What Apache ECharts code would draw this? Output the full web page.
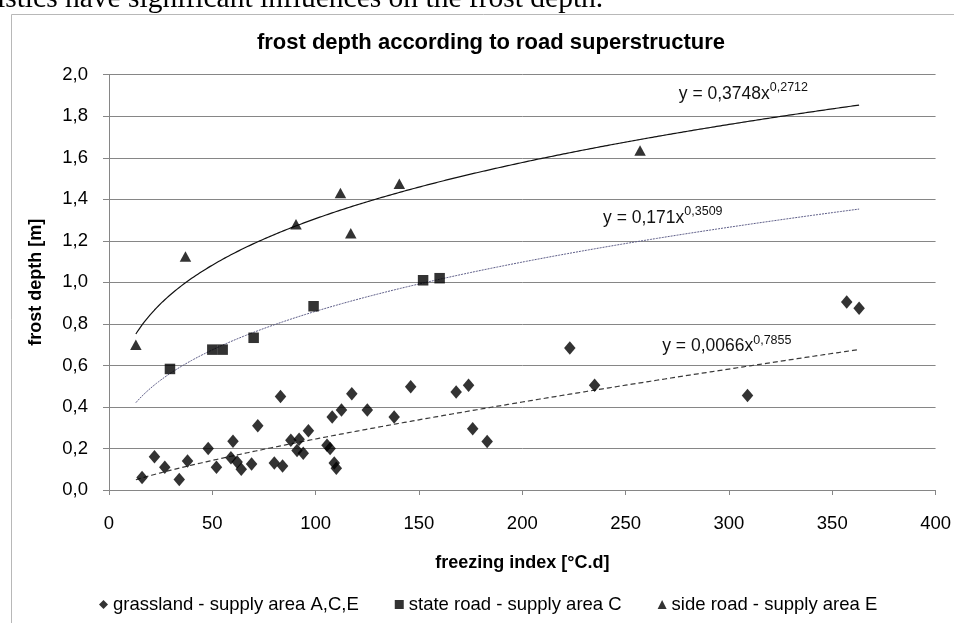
<!DOCTYPE html>
<html>
<head>
<meta charset="utf-8">
<script src="https://cdn.jsdelivr.net/npm/echarts@6/dist/echarts.min.js"></script>
<style>
html,body{margin:0;padding:0;background:#fff;}
#c{width:954px;height:623px;}
</style>
</head>
<body>
<div id="c"></div>
<script>
// ---- data ----
const seriesNames = ['grassland - supply area A,C,E', 'state road - supply area C', 'side road - supply area E'];
const grassland = [
  [16,0.06],[22,0.16],[27,0.11],[34,0.05],[38,0.14],[48,0.20],[52,0.11],[59,0.155],[60,0.235],
  [62,0.135],[64,0.10],[69,0.125],[72,0.31],[80,0.13],[83,0.45],[84,0.115],[88,0.24],[92,0.245],
  [91,0.19],[94,0.177],[96.5,0.285],[105.5,0.215],[107,0.20],[108,0.352],[109,0.13],[110,0.105],
  [112.5,0.385],[117.5,0.464],[125,0.385],[138,0.352],[146,0.497],[168,0.472],[174,0.505],
  [176,0.295],[183,0.234],[223,0.684],[235,0.505],[309,0.455],[357,0.905],[363,0.875]
];
const stateRoad = [[29.5,0.583],[50,0.676],[55,0.676],[70,0.733],[99,0.885],[152,1.01],[160,1.02]];
const sideRoad = [[13,0.70],[37,1.125],[90.5,1.28],[112,1.43],[117,1.237],[140.5,1.475],[257,1.635]];
// power trend lines y = a * x^b shown in the chart
const fitA = [0.0066, 0.171, 0.3748];
const fitB = [0.7855, 0.3509, 0.2712];
const fitXRange = [13, 363];
const fitLabels = ['0,0066', '0,171', '0,3748'];
const fitExpLabels = ['0,7855', '0,3509', '0,2712'];
const fitLabelPos = [[299, 0.70], [268, 1.318], [307, 1.915]];
const xTicks = [0, 400, 50];
const yTicks = [0, 2, 0.2];

// ---- build ----
function trend(i) {
  const pts = [];
  for (let x = fitXRange[0]; x <= fitXRange[1]; x += 1) pts.push([x, fitA[i] * Math.pow(x, fitB[i])]);
  return pts;
}
const FONT = '"Liberation Sans", Arial, sans-serif';
const trendStyles = [
  {color: '#3a3a3a', width: 1.2, type: [5, 3]},
  {color: '#5b5b86', width: 1, type: [2, 1]},
  {color: '#111111', width: 1.2, type: 'solid'}
];
const trendSeries = [0, 1, 2].map(i => ({
  type: 'line',
  name: 'trend' + i,
  data: trend(i),
  showSymbol: false,
  silent: true,
  z: 1,
  lineStyle: trendStyles[i],
  markPoint: {
    symbol: 'circle', symbolSize: 0, silent: true,
    data: [{coord: fitLabelPos[i]}],
    label: {
      show: true, position: 'inside',
      formatter: '{a|y = ' + fitLabels[i] + 'x}{b|' + fitExpLabels[i] + '}',
      rich: {
        a: {fontFamily: FONT, fontSize: 17.5, color: '#111', lineHeight: 22, verticalAlign: 'bottom'},
        b: {fontFamily: FONT, fontSize: 12.5, color: '#111', lineHeight: 13, verticalAlign: 'top'}
      }
    }
  }
}));

const chart = echarts.init(document.getElementById('c'), null, {renderer: 'canvas'});
const option = {
  animation: false,
  backgroundColor: '#fff',
  textStyle: {fontFamily: FONT},
  title: {
    text: 'frost depth according to road superstructure',
    left: 486, top: 27, textAlign: 'center',
    textStyle: {fontFamily: FONT, fontWeight: 'bold', fontSize: 22, color: '#000'}
  },
  graphic: [
    {type: 'rect', left: 9, top: 12, shape: {width: 1000, height: 700},
     style: {fill: 'none', stroke: '#b8b8b8', lineWidth: 1}, silent: true, z: -10},
    {type: 'text', left: -3, top: -16,
     style: {text: 'istics have significant influences on the frost depth.', fontFamily: '"Liberation Serif", "Times New Roman", serif',
             fontSize: 29.5, fill: '#000'}, silent: true}
  ],
  grid: {left: 109, right: 18, top: 74.7, bottom: 133, containLabel: false},
  legend: {
    data: [
      {name: seriesNames[0], icon: 'diamond'},
      {name: seriesNames[1], icon: 'rect'},
      {name: seriesNames[2], icon: 'triangle'}
    ],
    bottom: 4, left: 94, itemGap: 36, itemWidth: 9, itemHeight: 9,
    textStyle: {fontFamily: FONT, fontSize: 18.5, color: '#000'},
    selectedMode: false
  },
  xAxis: {
    type: 'value', min: xTicks[0], max: xTicks[1], interval: xTicks[2],
    name: 'freezing index [°C.d]', nameLocation: 'middle', nameGap: 64,
    nameTextStyle: {fontFamily: FONT, fontWeight: 'bold', fontSize: 18, color: '#000'},
    axisLine: {show: true, lineStyle: {color: '#868686'}},
    axisTick: {show: true, length: 5, lineStyle: {color: '#868686'}},
    axisLabel: {fontFamily: FONT, fontSize: 18.5, color: '#000', margin: 24},
    splitLine: {show: false}
  },
  yAxis: {
    type: 'value', min: yTicks[0], max: yTicks[1], interval: yTicks[2],
    name: 'frost depth [m]', nameLocation: 'middle', nameGap: 64, nameRotate: 90,
    nameTextStyle: {fontFamily: FONT, fontWeight: 'bold', fontSize: 18, color: '#000'},
    axisLine: {show: true, lineStyle: {color: '#868686'}},
    axisTick: {show: true, length: 6, lineStyle: {color: '#868686'}},
    axisLabel: {fontFamily: FONT, fontSize: 18.5, color: '#000', margin: 21,
      formatter: v => v.toFixed(1).replace('.', ',')},
    splitLine: {show: true, lineStyle: {color: '#868686', width: 1}}
  },
  series: [
    ...trendSeries,
    {type: 'scatter', name: seriesNames[0], data: grassland, symbol: 'diamond', symbolSize: [11.5, 13.5],
     itemStyle: {color: '#000'}, z: 3},
    {type: 'scatter', name: seriesNames[1], data: stateRoad, symbol: 'rect', symbolSize: 10.5,
     itemStyle: {color: '#000'}, z: 3},
    {type: 'scatter', name: seriesNames[2], data: sideRoad, symbol: 'triangle', symbolSize: [11.5, 10.5],
     itemStyle: {color: '#000'}, z: 3}
  ]
};
chart.setOption(option);
</script>
</body>
</html>
